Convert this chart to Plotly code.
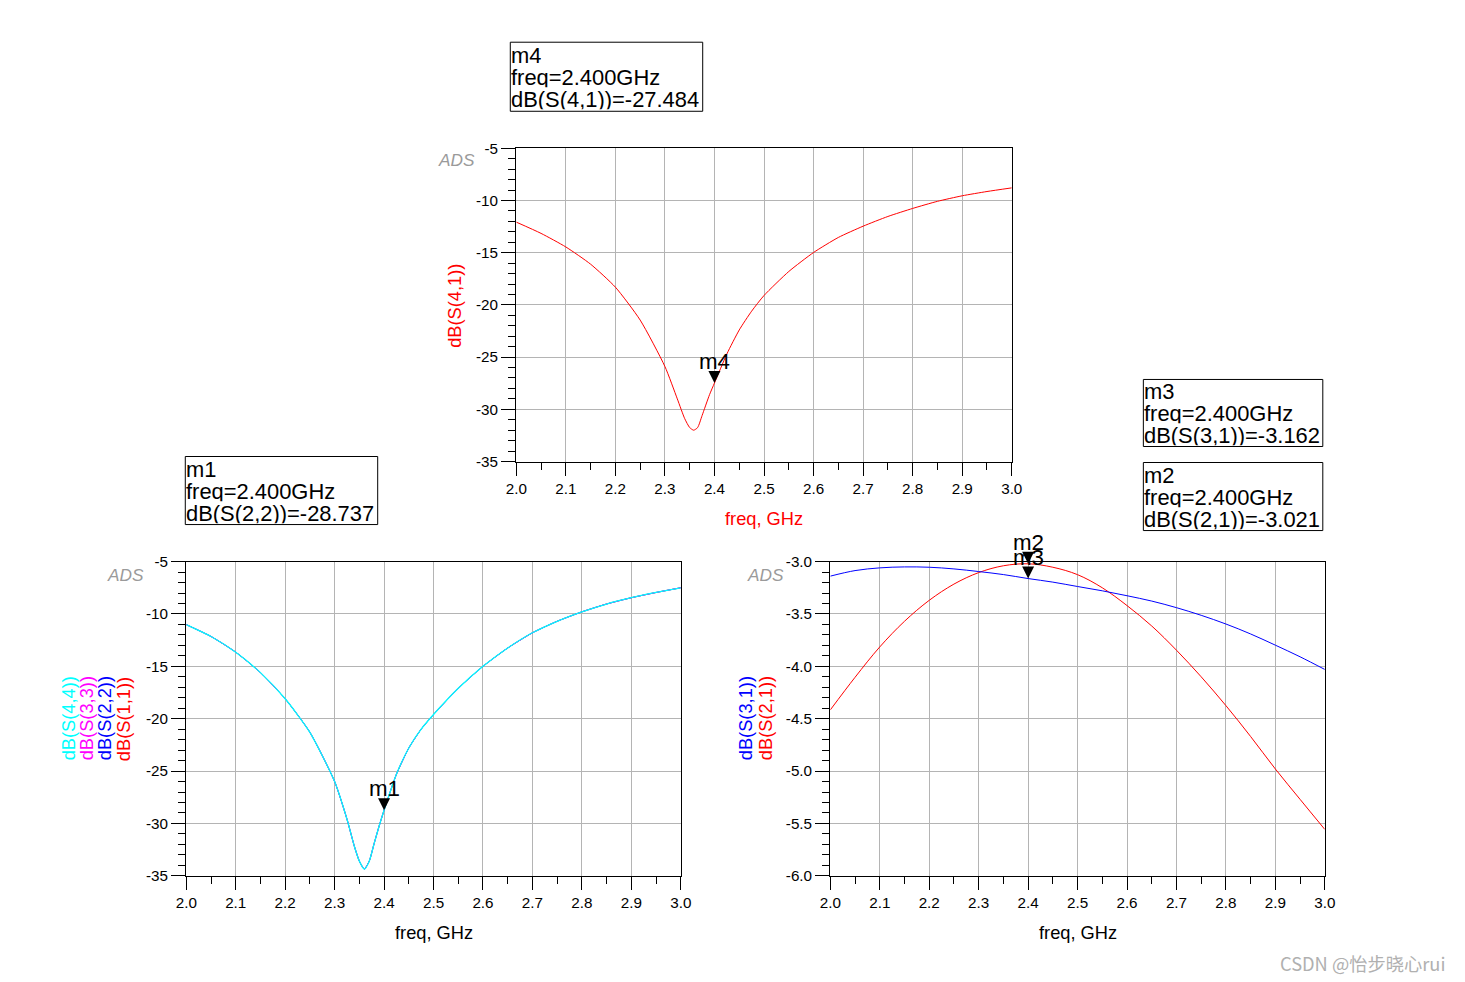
import plotly.graph_objects as go

W, H = 1465, 982

# ---------------- data ----------------
x_ticks = [2.0, 2.1, 2.2, 2.3, 2.4, 2.5, 2.6, 2.7, 2.8, 2.9, 3.0]
y_ticks_refl = [-35, -30, -25, -20, -15, -10, -5]
y_ticks_tr = [-6.0, -5.5, -5.0, -4.5, -4.0, -3.5, -3.0]

freq_s41 = [2.0, 2.05, 2.1, 2.15, 2.2, 2.25, 2.3, 2.325, 2.34, 2.35, 2.358, 2.366,
            2.375, 2.39, 2.4, 2.425, 2.45, 2.475, 2.5, 2.55, 2.6, 2.65, 2.7, 2.75,
            2.8, 2.85, 2.9, 2.95, 3.0]
s41_db = [-12.07, -13.15, -14.45, -16.1, -18.3, -21.45, -25.9, -29.0, -30.9, -31.75,
          -32.0, -31.75, -30.6, -28.6, -27.484, -24.7, -22.4, -20.6, -19.1, -16.8,
          -14.98, -13.54, -12.46, -11.53, -10.76, -10.08, -9.55, -9.14, -8.79]

freq_refl = [2.0, 2.05, 2.1, 2.15, 2.2, 2.25, 2.3, 2.325, 2.34, 2.35, 2.36, 2.37,
             2.38, 2.39, 2.4, 2.425, 2.45, 2.475, 2.5, 2.55, 2.6, 2.65, 2.7, 2.75,
             2.8, 2.85, 2.9, 2.95, 3.0]
s11_db = [-11.02, -12.15, -13.65, -15.6, -18.1, -21.3, -26.0, -29.6, -32.2, -33.6,
          -34.35, -33.6, -31.9, -30.25, -28.737, -25.3, -22.8, -21.0, -19.6, -17.1,
          -15.0, -13.25, -11.8, -10.7, -9.8, -9.05, -8.45, -7.95, -7.5]
s22_db = list(s11_db)
s33_db = list(s11_db)
s44_db = list(s11_db)

freq_tr = [2.0, 2.05, 2.1, 2.15, 2.2, 2.25, 2.3, 2.35, 2.4, 2.45, 2.5, 2.55, 2.6,
           2.65, 2.7, 2.75, 2.8, 2.85, 2.9, 2.95, 3.0]
s21_db = [-4.416, -4.105, -3.815, -3.57, -3.37, -3.215, -3.105, -3.04, -3.021,
          -3.054, -3.125, -3.25, -3.42, -3.615, -3.846, -4.10, -4.375, -4.67,
          -4.98, -5.27, -5.557]
s31_db = [-3.139, -3.086, -3.06, -3.051, -3.054, -3.07, -3.095, -3.124, -3.162,
          -3.196, -3.238, -3.279, -3.326, -3.377, -3.44, -3.513, -3.596, -3.691,
          -3.798, -3.909, -4.03]

# markers: (name, freq, value)
m1 = ("m1", 2.4, -28.737)
m2 = ("m2", 2.4, -3.021)
m3 = ("m3", 2.4, -3.162)
m4 = ("m4", 2.4, -27.484)

# page placement compensation (rendered page is slightly offset / scaled)
OX, SX = 16.2, 0.988
OY, SY = 16.8, 0.982
S = (SX + SY) / 2


def px(x):
    return ((x - OX) / SX) / W


def py(y):
    return 1 - ((y - OY) / SY) / H


def fs(v):
    return v / S


FONT = "Arial, Liberation Sans, sans-serif"

fig = go.Figure()

fig.add_trace(go.Scatter(x=freq_s41, y=s41_db, mode="lines",
                         line=dict(color="#ff0000", width=1, shape="spline", smoothing=0.6),
                         xaxis="x", yaxis="y", name="dB(S(4,1))"))

for arr, col, nm, w in [(s11_db, "#ff0000", "dB(S(1,1))", 0.8),
                        (s22_db, "#0000ff", "dB(S(2,2))", 0.8),
                        (s33_db, "#ff00ff", "dB(S(3,3))", 0.8),
                        (s44_db, "#00ffff", "dB(S(4,4))", 1.3)]:
    fig.add_trace(go.Scatter(x=freq_refl, y=arr, mode="lines",
                             line=dict(color=col, width=w, shape="spline", smoothing=0.6),
                             xaxis="x2", yaxis="y2", name=nm))

fig.add_trace(go.Scatter(x=freq_tr, y=s21_db, mode="lines",
                         line=dict(color="#ff0000", width=1, shape="spline", smoothing=1.0),
                         xaxis="x3", yaxis="y3", name="dB(S(2,1))"))
fig.add_trace(go.Scatter(x=freq_tr, y=s31_db, mode="lines",
                         line=dict(color="#0000ff", width=1, shape="spline", smoothing=1.0),
                         xaxis="x3", yaxis="y3", name="dB(S(3,1))"))

common = dict(showline=True, linecolor="black", linewidth=1, mirror=True,
              showgrid=True, gridcolor="#b4b4b4", gridwidth=1,
              ticks="outside", ticklen=fs(14), tickwidth=1, tickcolor="black",
              tickfont=dict(family=FONT, size=fs(15), color="black"),
              zeroline=False)

xcommon = dict(common, range=[2.0, 3.0], tickmode="array", tickvals=x_ticks,
               ticktext=["%.1f" % v for v in x_ticks], ticklen=fs(13),
               minor=dict(tickmode="linear", tick0=2.0, dtick=0.05, ticklen=fs(7),
                          tickcolor="black", ticks="outside", showgrid=False))

y_refl = dict(common, range=[-35, -5], tickmode="array", tickvals=y_ticks_refl,
              ticktext=["%d" % v for v in y_ticks_refl],
              minor=dict(tickmode="linear", tick0=-35, dtick=1, ticklen=fs(7),
                         tickcolor="black", ticks="outside", showgrid=False))
y_tr = dict(common, range=[-6.0, -3.0], tickmode="array", tickvals=y_ticks_tr,
            ticktext=["%.1f" % v for v in y_ticks_tr],
            minor=dict(tickmode="linear", tick0=-6.0, dtick=0.1, ticklen=fs(7),
                       tickcolor="black", ticks="outside", showgrid=False))

fig.update_layout(
    width=W, height=H, autosize=False,
    margin=dict(l=0, r=0, t=0, b=0),
    paper_bgcolor="white", plot_bgcolor="white",
    showlegend=False,
    xaxis=dict(xcommon, domain=[px(515), px(1012)], anchor="y"),
    yaxis=dict(y_refl, domain=[py(461), py(148)], anchor="x"),
    xaxis2=dict(xcommon, domain=[px(184), px(680)], anchor="y2"),
    yaxis2=dict(y_refl, domain=[py(875), py(561)], anchor="x2"),
    xaxis3=dict(xcommon, domain=[px(830), px(1326)], anchor="y3"),
    yaxis3=dict(y_tr, domain=[py(875), py(561)], anchor="x3"),
)

ann = []
shapes = []


def txt(x, y, text, color="black", size=18, angle=0, xanchor="center", family=FONT,
        height=None):
    a = dict(x=px(x), y=py(y), xref="paper", yref="paper", text=text,
             showarrow=False, textangle=angle, xanchor=xanchor, yanchor="middle",
             font=dict(family=family, size=fs(size), color=color))
    if height is not None:
        a["height"] = height
        a["valign"] = "middle"
    ann.append(a)


# axis titles
txt(763, 518, "freq, GHz", color="#ff0000")
txt(432, 932, "freq, GHz")
txt(1078, 932, "freq, GHz")
txt(453, 305, "dB(S(4,1))", color="#ff0000", angle=-90)
txt(66, 718, "dB(S(4,4))", color="#00ffff", angle=-90)
txt(84, 718, "dB(S(3,3))", color="#ff00ff", angle=-90)
txt(102, 718, "dB(S(2,2))", color="#0000ff", angle=-90)
txt(121, 718, "dB(S(1,1))", color="#ff0000", angle=-90)
txt(745, 718, "dB(S(3,1))", color="#0000ff", angle=-90)
txt(765, 718, "dB(S(2,1))", color="#ff0000", angle=-90)

# ADS logos
for (lx, ly) in [(455, 160), (123, 574), (765, 574)]:
    txt(lx, ly, "<i>ADS</i>", color="#9a9a9a", size=17,
        family="Liberation Sans Narrow, Arial Narrow, Arial, sans-serif")

# watermark
txt(1364, 962, "CSDN @怡步晓心rui", color="#b0b0b0", size=18,
    family="Noto Sans CJK SC, sans-serif")

# marker readout boxes
boxes = [
    (m4, "dB(S(4,1))", 509, 702, 42, 111),
    (m1, "dB(S(2,2))", 183, 376, 456, 524),
    (m3, "dB(S(3,1))", 1144, 1324, 379, 446),
    (m2, "dB(S(2,1))", 1144, 1324, 462, 530),
]
for (mk, lbl, x0, x1, y0, y1) in boxes:
    shapes.append(dict(type="rect", xref="paper", yref="paper", x0=px(x0), x1=px(x1),
                       y0=py(y1), y1=py(y0), line=dict(color="black", width=1),
                       fillcolor="white", layer="below"))
    yc = (y0 + y1) / 2
    lines = [mk[0], "freq=%.3fGHz" % mk[1], "%s=%.3f" % (lbl, mk[2])]
    for i, t in enumerate(lines):
        txt(x0 - 1, yc + (i - 1) * 22, t, size=21.6, xanchor="left", height=fs(20))

# markers on curves
for mk, xr, yr in [(m4, "x", "y"), (m1, "x2", "y2"), (m2, "x3", "y3"), (m3, "x3", "y3")]:
    ann.append(dict(x=mk[1], y=mk[2], xref=xr, yref=yr, text=mk[0], showarrow=True,
                    arrowhead=2, arrowsize=2.0, arrowwidth=1.2, arrowcolor="black",
                    ax=0, ay=-21 / SY, standoff=0,
                    font=dict(family=FONT, size=fs(22), color="black")))

fig.update_layout(annotations=ann, shapes=shapes)

fig.write_html("out.html")
